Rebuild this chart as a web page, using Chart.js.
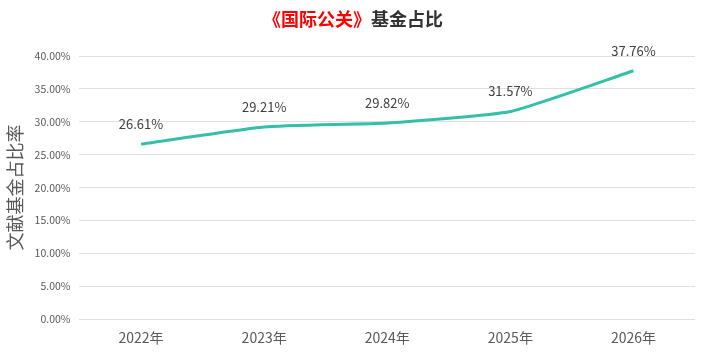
<!DOCTYPE html>
<html>
<head>
<meta charset="utf-8">
<script src="https://cdn.jsdelivr.net/npm/chart.js@4"></script>
<style>
  body { margin: 0; background: #fff; }
  #wrap { width: 701px; height: 353px; }
</style>
</head>
<body>
<div id="wrap"><canvas id="fundChart"></canvas></div>
<script>
  let years = ["2022年", "2023年", "2024年", "2025年", "2026年"];
  let ratios = [26.61, 29.21, 29.82, 31.57, 37.76];
  let yTicks = [0, 5, 10, 15, 20, 25, 30, 35, 40];

  let cjk = '"Noto Sans CJK SC", "Noto Sans", sans-serif';

  /**************Title with two colours**************/
  let titlePlugin = {
    id: 'twoColourTitle',
    afterDraw(chart) {
      let c = chart.ctx;
      let redPart = '《国际公关》';
      let darkPart = '基金占比';
      c.save();
      c.font = 'bold 18px ' + cjk;
      c.textBaseline = 'middle';
      let w1 = c.measureText(redPart).width;
      let w2 = c.measureText(darkPart).width;
      let x = 353 - (w1 + w2) / 2;
      c.fillStyle = '#ff0000';
      c.fillText(redPart, x, 19);
      c.fillStyle = '#333333';
      c.fillText(darkPart, x + w1, 19);
      c.restore();
    }
  };

  /**************Value labels above points**************/
  let labelPlugin = {
    id: 'pointLabels',
    afterDatasetsDraw(chart) {
      let c = chart.ctx;
      let meta = chart.getDatasetMeta(0);
      c.save();
      c.font = '13px ' + cjk;
      c.fillStyle = '#404040';
      c.textAlign = 'center';
      c.textBaseline = 'middle';
      meta.data.forEach((pt, i) => {
        c.fillText(ratios[i].toFixed(2) + '%', pt.x, pt.y - 20);
      });
      c.restore();
    }
  };

  new Chart(document.getElementById('fundChart'), {
    type: 'line',
    data: {
      labels: years,
      datasets: [{
        data: ratios,
        borderColor: '#34bfa8',
        borderWidth: 3,
        pointRadius: 0,
        tension: 0.15,
        fill: false
      }]
    },
    options: {
      responsive: true,
      maintainAspectRatio: false,
      animation: false,
      layout: { padding: { top: 56, right: 6, left: 0, bottom: 5 } },
      plugins: {
        legend: { display: false },
        title: { display: false },
        tooltip: { enabled: false }
      },
      scales: {
        x: {
          offset: true,
          grid: { display: false },
          border: { display: false },
          ticks: { color: '#595959', font: { size: 14, family: cjk }, padding: 2 }
        },
        y: {
          min: 0,
          max: 40,
          afterBuildTicks(axis) { axis.ticks = yTicks.map(v => ({ value: v })); },
          grid: { color: '#e0e0e0', drawTicks: false },
          border: { display: false },
          ticks: {
            color: '#595959',
            font: { size: 10.5, family: cjk },
            padding: 9,
            callback: v => v.toFixed(2) + '%'
          },
          title: {
            display: true,
            text: '文献基金占比率',
            color: '#595959',
            font: { size: 18, family: cjk },
            padding: { top: 4, bottom: 0 }
          }
        }
      }
    },
    plugins: [titlePlugin, labelPlugin]
  });
</script>
</body>
</html>
